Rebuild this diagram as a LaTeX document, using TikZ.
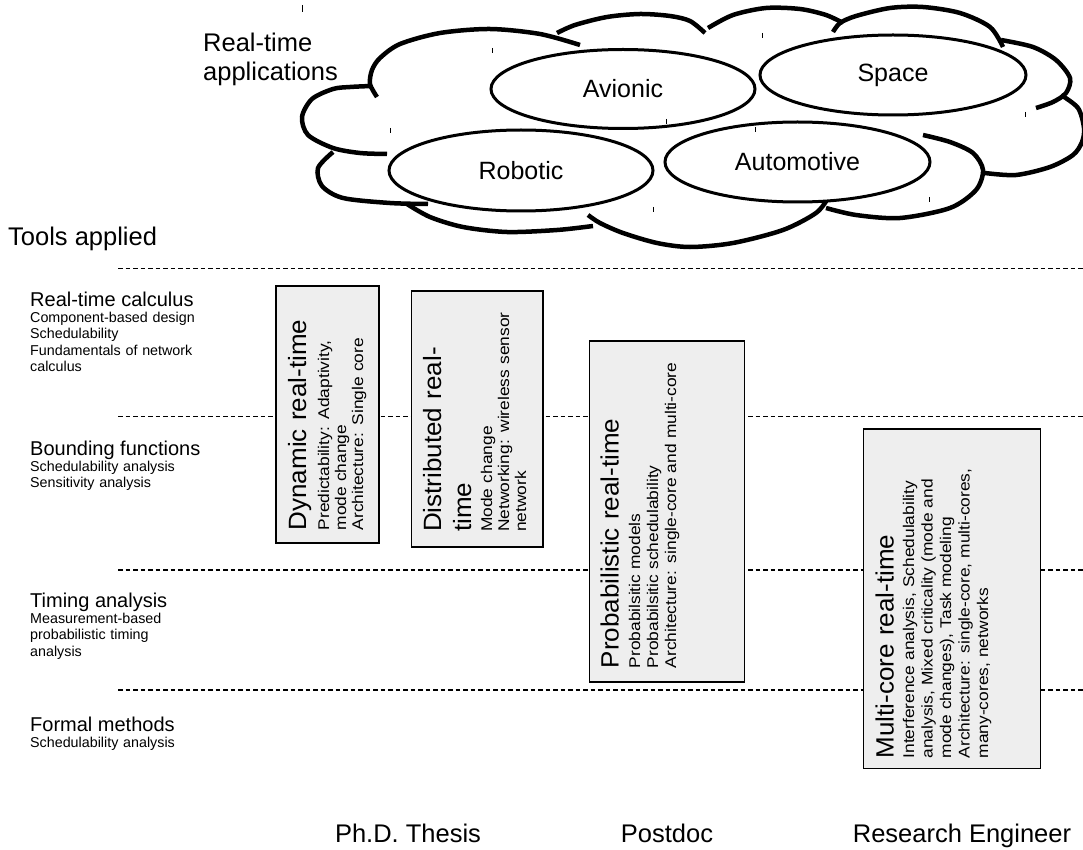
\documentclass[tikz,border=0pt]{standalone}
\usepackage{fontspec}
\setmainfont{Liberation Sans}
\newfontfamily\ttlfam{Liberation Sans}[FakeStretch=1.04]
\newfontfamily\bodyfam{Liberation Sans}[FakeStretch=1.12]
\usetikzlibrary{shapes.geometric}
\definecolor{panelgray}{HTML}{EEEEEE}
\tikzset{
  cloudline/.style={line width=4.5pt},
  bubble/.style={ellipse, draw, line width=3pt, fill=white, inner sep=0pt, outer sep=0pt, font=\fontsize{25}{29}\selectfont},
  sepline/.style={line width=1.3pt, dash pattern=on 4.5pt off 3pt},
  panel/.style={draw, line width=1.8pt, fill=panelgray, inner sep=0pt, outer sep=0pt, anchor=north west},
  ttl/.style={rotate=90, anchor=base west, inner sep=0pt, text width=320pt, align=left, font=\ttlfam\fontsize{25}{30}\selectfont},
  body/.style={rotate=90, anchor=base west, inner sep=0pt, text width=320pt, align=left, font=\bodyfam\fontsize{15.5}{#1}\selectfont},
  lab/.style={anchor=base west, inner sep=0pt, font=\fontsize{20}{23}\selectfont},
  labsub/.style={anchor=base west, inner sep=0pt, text width=260pt, align=left, font=\fontsize{14.3}{16.5}\selectfont},
  big/.style={inner sep=0pt, font=\fontsize{25.5}{28.3}\selectfont},
  tick/.style={line width=0.9pt}
}
\begin{document}
\begin{tikzpicture}[x=1pt,y=-1pt]
\useasboundingbox[fill=white] (0,0) rectangle (1083,850);

% separators
\coordinate (s1a) at (118,268.5); \coordinate (s1b) at (1083,268.5);
\coordinate (s2a) at (118,416.5); \coordinate (s2b) at (1083,416.5);
\coordinate (s3a) at (118,570);   \coordinate (s3b) at (1083,570);
\coordinate (s4a) at (118,690);   \coordinate (s4b) at (1083,690);
\draw[sepline] (s1a) -- (s1b);
\draw[sepline] (s2a) -- (s2b);
\draw[sepline] (s3a) -- (s3b);
\draw[sepline] (s4a) -- (s4b);

% left labels
\node[big, anchor=base west] (tools) at (8,246) {Tools applied};
\node[lab] (rtc) at (30,306) {Real-time calculus};
\node[labsub] (rtcs) at (30,322) {Component-based design\\Schedulability\\Fundamentals of network\\calculus};
\node[lab] (bf) at (30,455) {Bounding functions};
\node[labsub] (bfs) at (30,471) {Schedulability analysis\\Sensitivity analysis};
\node[lab] (ta) at (30,607) {Timing analysis};
\node[labsub] (tas) at (30,623) {Measurement-based\\probabilistic timing\\analysis};
\node[lab] (fm) at (30,731) {Formal methods};
\node[labsub] (fms) at (30,747) {Schedulability analysis};

% boxes
\node[panel, minimum width=103pt, minimum height=257pt] (dyn) at (276,286) {};
\node[panel, minimum width=131.5pt, minimum height=256pt] (dist) at (411.5,291) {};
\node[panel, minimum width=155pt, minimum height=341pt] (prob) at (589.5,341) {};
\node[panel, minimum width=177pt, minimum height=339.5pt] (multi) at (863.5,429) {};

\node[ttl] (dynT) at (306,530.5) {Dynamic real-time};
\node[body=17pt] (dynB) at (329,530.5) {Predictability: Adaptivity,\\mode change\\Architecture: Single core};
\node[ttl] (distT) at (441,532) {Distributed real-\\time};
\node[body=17pt] (distB) at (492,532) {Mode change\\Networking: wireless sensor\\network};
\node[ttl] (probT) at (618.5,668.5) {Probabilistic real-time};
\node[body=18pt] (probB) at (640,668.5) {Probabilsitic models\\Probabilsitic schedulability\\Architecture: single-core and multi-core};
\node[ttl] (multiT) at (893.5,758.5) {Multi-core real-time};
\node[body=18.5pt] (multiB) at (914,758.5) {Interference analysis, Schedulability\\analysis, Mixed criticality (mode and\\mode changes), Task modeling\\Architecture: single-core, multi-cores,\\many-cores, networks};

% bottom labels
\node[big, anchor=base] (phd) at (408,842) {Ph.D. Thesis};
\node[big, anchor=base] (postdoc) at (667,842) {Postdoc};
\node[big, anchor=base] (reseng) at (962,842) {Research Engineer};

% cloud title
\node[big, anchor=base west, align=left, text width=200pt] (rta) at (203,52) {Real-time\\applications};

% cloud outline
\draw[cloudline] plot[smooth] coordinates {(371,86) (350,87) (333,89) (312,99) (302,117) (308,135) (333,148) (360,153) (387,154)};
\draw[cloudline] plot[smooth] coordinates {(377,97) (370,84) (372,70) (380,58) (400,44) (440,33) (490,29) (540,34) (580,45)};
\draw[cloudline] plot[smooth] coordinates {(557,33) (575,25) (607,17) (640,14) (670,16) (690,21) (705,33)};
\draw[cloudline] plot[smooth] coordinates {(708,28) (733,15) (766,8) (800,9) (826,15) (843,23)};
\draw[cloudline] plot[smooth] coordinates {(833,32) (840,23) (856,16) (890,8) (923,7) (960,13) (990,27) (1003,47)};
\draw[cloudline] plot[smooth] coordinates {(1001,40) (1033,47) (1056,60) (1070,78) (1066,93) (1053,102) (1036,108)};
\draw[cloudline] plot[smooth] coordinates {(1061,95) (1078,108) (1084,128) (1082,142) (1073,155) (1050,167) (1016,175) (985,173)};
\draw[cloudline] plot[smooth] coordinates {(826,208) (856,215) (900,218) (950,208) (976,190) (983,170) (973,153) (950,142) (923,135)};
\draw[cloudline] plot[smooth] coordinates {(588,215) (600,223) (623,233) (657,243) (690,247) (733,243) (783,230) (816,213) (828,198)};
\draw[cloudline] plot[smooth] coordinates {(407,204) (430,217) (463,227) (507,232) (557,230) (593,226)};
\draw[cloudline] plot[smooth] coordinates {(333,152) (318,168) (322,186) (343,198) (390,203) (428,204)};

% cloud bubbles
\node[bubble, minimum width=264pt, minimum height=79pt] (avi) at (623,89) {Avionic};
\node[bubble, minimum width=266pt, minimum height=80pt] (spc) at (893,75) {Space};
\node[bubble, minimum width=264pt, minimum height=81pt] (rob) at (521,170.5) {Robotic};
\node[bubble, minimum width=265pt, minimum height=80pt] (auto) at (797.5,162) {Automotive};

% small marks
\draw[tick] (302,5) -- (302,12);
\draw[tick] (492,48) -- (492,53);
\draw[tick] (390,128) -- (390,133);
\draw[tick] (666,119) -- (666,124);
\draw[tick] (653,207) -- (653,212);
\draw[tick] (762,33) -- (762,38);
\draw[tick] (755,127) -- (755,132);
\draw[tick] (1025,112) -- (1025,117);
\draw[tick] (929,197) -- (929,202);
\end{tikzpicture}
\end{document}
